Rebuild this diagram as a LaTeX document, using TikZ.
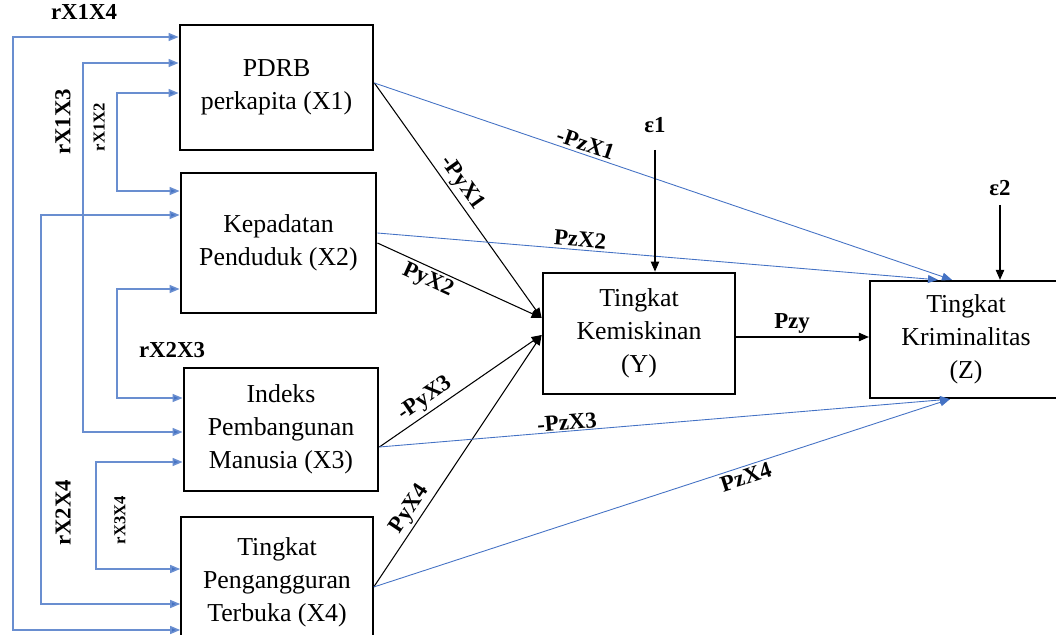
\documentclass[tikz,border=0pt]{standalone}
\usepackage{fontspec}
\setmainfont{Liberation Serif}
\usetikzlibrary{arrows.meta}
\definecolor{corrblue}{RGB}{68,114,196}

\begin{document}
\begin{tikzpicture}[x=0.02cm, y=-0.02cm,
  every node/.style={font=\fontsize{14.7}{18.7}\selectfont},
  box/.style={draw, line width=1.6pt, align=center, inner sep=0pt},
  lbl/.style={font=\fontsize{13}{15}\selectfont\bfseries, inner sep=1.5pt},
  smalllbl/.style={font=\fontsize{9.5}{11}\selectfont\bfseries, inner sep=1pt},
  ypath/.style={draw=black, line width=0.6pt, -{Triangle[length=5.7pt, width=4.8pt]}},
  zpath/.style={draw=corrblue, line width=0.5pt, -{Triangle[length=5.7pt, width=4.5pt]}},
  corr/.style={draw=corrblue!80, line width=0.9pt, {Triangle[length=5.7pt, width=4.5pt, fill=corrblue]}-{Triangle[length=5.7pt, width=4.5pt, fill=corrblue]}}]
  \useasboundingbox (0,0) rectangle (1056,635);

  % variabel eksogen
  \node[box, minimum width=3.86cm, minimum height=2.5cm] (x1) at (276.5,87.5) {PDRB\\perkapita (X1)};
  \node[box, minimum width=3.9cm, minimum height=2.8cm] (x2) at (278.5,243) {Kepadatan\\Penduduk (X2)};
  \node[box, minimum width=3.88cm, minimum height=2.46cm] (x3) at (281,429.5) {Indeks\\Pembangunan\\Manusia (X3)};
  \node[box, line width=0.9pt, minimum width=3.84cm, minimum height=2.6cm] (x4) at (277,582) {Tingkat\\Pengangguran\\Terbuka (X4)};

  % variabel intervening dan endogen
  \node[box, minimum width=3.84cm, minimum height=2.42cm] (y) at (639,333.5) {Tingkat\\Kemiskinan\\(Y)};
  \node[box, line width=1.3pt, minimum width=3.84cm, minimum height=2.34cm] (z) at (966,339.5) {Tingkat\\Kriminalitas\\(Z)};

  % korelasi antar X
  \draw[corr] (x1.west |- 0,37) -| (13,630) -- (x4.west |- 0,630);
  \draw[corr] (x1.west |- 0,63) -| (83,432) -- (x3.west |- 0,432);
  \draw[corr] (x1.west |- 0,93) -| (117,191) -- (x2.west |- 0,191);
  \draw[corr] (x2.west |- 0,215) -| (41,604) -- (x4.west |- 0,604);
  \draw[corr] (x2.west |- 0,289) -| (117,398) -- (x3.west |- 0,398);
  \draw[corr] (x3.west |- 0,462) -| (96,569) -- (x4.west |- 0,569);

  \node[lbl] (r14) at (84,12) {rX1X4};
  \node[lbl, rotate=90] (r13) at (63,122) {rX1X3};
  \node[smalllbl, rotate=90] (r12) at (99,127) {rX1X2};
  \node[lbl] (r23) at (172,350) {rX2X3};
  \node[lbl, rotate=90] (r24) at (63,513) {rX2X4};
  \node[smalllbl, rotate=90] (r34) at (120,520) {rX3X4};

  % pengaruh X ke Y
  \draw[ypath] (x1.east |- 0,83) -- (y.west |- 0,318) node[lbl, sloped, above, pos=0.46] (pyx1) {-PyX1};
  \draw[ypath] (x2.east |- 0,243) -- (y.west |- 0,318) node[lbl, sloped, below, pos=0.34] (pyx2) {PyX2};
  \draw[ypath] (x3.east |- 0,447) -- (y.west |- 0,335) node[lbl, sloped, above, pos=0.33] (pyx3) {-PyX3};
  \draw[ypath] (x4.east |- 0,587) -- (y.west |- 0,335) node[lbl, sloped, above, pos=0.28] (pyx4) {PyX4};

  % pengaruh X ke Z
  \draw[zpath] (x1.east |- 0,83) -- (z.north -| 952,0) node[lbl, sloped, above, pos=0.36] (pzx1) {-PzX1};
  \draw[zpath] (x2.east |- 0,233) -- (z.north -| 938,0) node[lbl, sloped, above, pos=0.36] (pzx2) {PzX2};
  \draw[zpath] (x3.east |- 0,447) -- (z.south -| 950,0) node[lbl, sloped, above, inner sep=0.5pt, pos=0.33] (pzx3) {-PzX3};
  \draw[zpath] (x4.east |- 0,587) -- (z.south -| 950,0) node[lbl, sloped, below, pos=0.64] (pzx4) {PzX4};

  % Y ke Z
  \draw[ypath] (y.east |- 0,337) -- (z.west |- 0,337) node[lbl, above, pos=0.42] (pzy) {Pzy};

  % error
  \node[lbl] (e1) at (655,125) {ε1};
  \node[lbl] (e2) at (1000,188) {ε2};
  \draw[ypath] ([yshift=-0.5cm]e1.center) -- (y.north -| e1);
  \draw[ypath] ([yshift=-0.34cm]e2.center) -- (z.north -| e2);
\end{tikzpicture}
\end{document}
